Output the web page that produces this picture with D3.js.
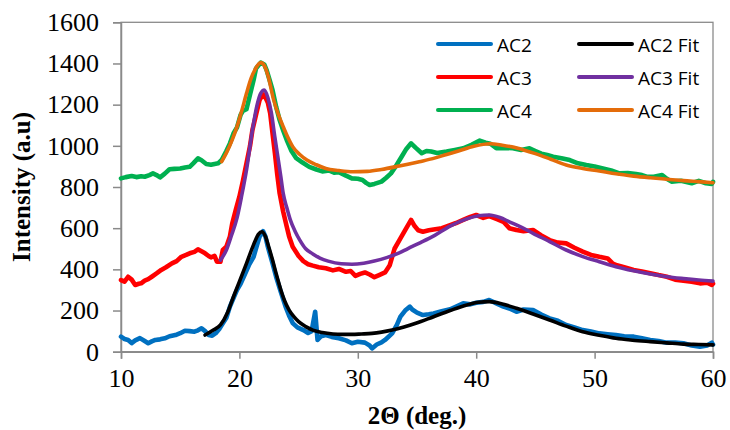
<!DOCTYPE html>
<html>
<head>
<meta charset="utf-8">
<script src="https://cdn.jsdelivr.net/npm/d3@7"></script>
<style>
  html, body { margin: 0; padding: 0; background: #fff; }
  svg { display: block; }
</style>
</head>
<body>
<svg id="chart" width="730" height="430"></svg>
<script>
// XRD patterns [2θ (deg), intensity (a.u)]
const ac2 = [[10.0,73],[10.3,62],[10.6,57],[10.9,42],[11.2,55],[11.6,66],[12.0,52],[12.3,41],[12.6,50],[12.9,57],[13.3,60],[13.7,65],[14.1,75],[14.6,81],[15.0,90],[15.4,102],[15.8,100],[16.2,97],[16.5,104],[16.8,114],[17.1,100],[17.4,81],[17.7,78],[18.0,90],[18.3,110],[18.6,138],[18.9,165],[19.2,219],[19.5,260],[19.8,300],[20.1,330],[20.5,381],[20.8,420],[21.2,461],[21.5,520],[21.7,558],[22.0,585],[22.2,560],[22.4,510],[22.8,429],[23.1,364],[23.5,290],[23.9,219],[24.2,175],[24.5,139],[24.9,118],[25.4,105],[25.8,91],[26.1,100],[26.4,194],[26.6,57],[26.9,75],[27.3,81],[27.8,72],[28.4,65],[29.0,55],[29.5,41],[30.0,48],[30.6,44],[31.0,30],[31.2,16],[31.6,35],[32.0,45],[32.3,57],[32.9,89],[33.3,130],[33.6,170],[34.0,200],[34.4,219],[34.6,205],[35.0,190],[35.5,178],[36.0,182],[36.4,186],[37.0,195],[37.8,206],[38.4,222],[38.9,235],[39.5,230],[40.0,238],[40.6,242],[41.1,251],[41.7,235],[42.3,219],[42.8,210],[43.4,194],[44.0,205],[44.8,202],[45.5,180],[46.2,162],[46.9,150],[47.6,130],[48.3,118],[49.0,105],[49.7,98],[50.4,89],[51.1,85],[51.8,81],[52.5,75],[53.3,73],[54.0,65],[54.7,57],[55.4,52],[56.1,44],[56.8,45],[57.5,41],[58.2,30],[58.9,24],[59.5,30],[59.9,44],[60.0,35]];

const ac2Fit = [[17.1,81],[17.8,105],[18.4,130],[19.0,190],[19.5,267],[20.0,340],[20.6,429],[21.2,520],[21.6,570],[21.9,583],[22.2,560],[22.5,505],[22.8,445],[23.1,380],[23.5,300],[23.8,250],[24.2,202],[24.6,170],[25.0,146],[25.6,122],[26.2,105],[27.0,93],[27.9,86],[28.7,84],[29.5,84],[30.3,86],[31.2,89],[32.0,95],[32.9,105],[33.9,120],[34.9,138],[36.4,170],[37.8,200],[39.2,227],[40.2,240],[41.1,243],[42.2,232],[43.4,211],[44.8,183],[46.2,154],[47.6,124],[49.0,97],[50.4,80],[51.8,65],[53.2,56],[54.7,49],[56.1,43],[57.5,37],[58.8,35],[60.0,33]];

const ac3 = [[10.0,348],[10.3,340],[10.6,364],[10.9,350],[11.2,324],[11.5,330],[11.7,332],[12.0,345],[12.3,352],[12.6,364],[13.0,380],[13.4,397],[13.8,410],[14.3,429],[14.7,440],[15.1,461],[15.5,470],[15.8,478],[16.2,485],[16.5,497],[16.8,488],[17.1,478],[17.4,465],[17.6,458],[17.9,465],[18.1,437],[18.4,437],[18.6,494],[18.9,510],[19.2,560],[19.4,624],[19.7,690],[20.0,753],[20.3,830],[20.6,915],[20.9,1000],[21.1,1077],[21.4,1150],[21.7,1222],[22.0,1250],[22.1,1247],[22.4,1210],[22.6,1158],[22.8,1060],[23.0,964],[23.2,860],[23.4,769],[23.7,680],[24.0,607],[24.2,560],[24.5,510],[25.0,465],[25.4,440],[25.8,425],[26.2,418],[26.7,410],[27.3,405],[27.9,395],[28.4,402],[29.0,388],[29.4,392],[29.8,368],[30.2,378],[30.6,385],[31.0,375],[31.4,362],[31.8,372],[32.3,385],[32.7,420],[33.1,500],[33.6,550],[34.0,591],[34.5,640],[34.8,610],[35.1,590],[35.5,583],[36.0,590],[36.4,594],[37.1,600],[37.8,615],[38.3,625],[38.9,640],[39.5,655],[40.0,664],[40.6,650],[41.1,659],[41.7,645],[42.3,631],[42.8,600],[43.4,591],[44.0,585],[44.8,591],[45.5,565],[46.2,542],[46.9,530],[47.6,526],[48.3,505],[49.0,486],[49.7,470],[50.4,461],[51.1,453],[51.5,430],[51.8,421],[52.5,410],[53.3,397],[54.0,390],[54.7,381],[55.4,372],[56.1,364],[56.8,350],[57.5,345],[58.2,340],[58.9,332],[59.5,335],[59.9,324],[60.0,330]];

const ac3Fit = [[18.4,445],[18.9,494],[19.3,560],[19.8,650],[20.2,760],[20.6,883],[21.1,1077],[21.5,1200],[21.8,1255],[22.1,1271],[22.4,1235],[22.7,1160],[23.0,1040],[23.2,964],[23.5,850],[23.7,769],[24.0,700],[24.3,640],[24.7,585],[25.1,542],[25.6,500],[26.2,475],[26.8,455],[27.5,440],[28.6,427],[29.5,425],[30.5,430],[31.4,440],[32.5,458],[33.5,480],[34.2,500],[35.3,530],[36.5,565],[37.8,610],[39.2,645],[40.2,660],[41.1,664],[42.0,652],[42.8,631],[43.8,605],[44.8,575],[46.2,535],[47.6,494],[49.0,462],[50.4,437],[51.8,413],[53.3,393],[54.7,377],[56.1,364],[57.5,355],[58.8,348],[60.0,343]];

const ac4 = [[10.0,842],[10.4,848],[10.9,853],[11.3,848],[11.7,852],[12.0,850],[12.4,858],[12.7,866],[13.0,858],[13.3,847],[13.7,865],[14.1,886],[14.5,888],[15.0,890],[15.4,895],[15.8,898],[16.1,915],[16.5,939],[16.8,930],[17.2,912],[17.6,908],[17.9,912],[18.2,915],[18.5,931],[18.9,975],[19.2,1012],[19.5,1060],[19.8,1090],[20.1,1150],[20.3,1170],[20.6,1178],[20.9,1250],[21.2,1320],[21.4,1376],[21.8,1404],[22.1,1395],[22.3,1368],[22.6,1310],[22.8,1270],[23.1,1190],[23.4,1125],[23.7,1075],[24.0,1028],[24.4,975],[24.8,940],[25.3,920],[25.9,898],[26.5,885],[27.0,876],[27.6,880],[28.0,870],[28.4,872],[29.0,855],[29.5,842],[30.0,840],[30.4,834],[30.7,820],[31.0,810],[31.4,815],[32.0,826],[32.4,845],[32.8,866],[33.2,900],[33.7,947],[34.1,985],[34.5,1012],[34.9,990],[35.4,964],[35.8,975],[36.2,972],[36.7,965],[37.5,972],[38.2,980],[38.9,988],[39.6,1005],[40.3,1025],[40.8,1015],[41.2,1010],[41.7,988],[42.4,990],[43.1,988],[43.8,980],[44.5,988],[45.0,975],[45.5,962],[46.0,955],[46.5,947],[47.2,940],[47.9,931],[48.6,915],[49.3,907],[50.0,900],[50.7,890],[51.4,880],[52.1,866],[52.8,868],[53.5,863],[54.0,858],[54.4,850],[55.0,850],[55.7,858],[56.1,840],[56.5,826],[57.3,830],[58.2,818],[58.8,830],[59.4,818],[59.9,815],[60.0,825]];

const ac4Fit = [[18.5,923],[18.9,965],[19.4,1030],[19.8,1093],[20.2,1170],[20.6,1255],[21.0,1330],[21.3,1368],[21.8,1404],[22.1,1390],[22.4,1344],[22.9,1222],[23.3,1150],[23.7,1093],[24.1,1040],[24.5,996],[25.1,958],[25.7,931],[26.5,908],[27.3,890],[28.4,880],[29.6,874],[30.8,876],[32.0,885],[33.5,902],[35.2,923],[36.4,939],[37.5,958],[38.5,975],[39.8,998],[41.2,1010],[42.2,1003],[43.0,995],[44.0,980],[45.0,962],[46.3,935],[47.6,907],[49.0,890],[50.4,878],[51.8,864],[53.3,853],[54.7,845],[56.1,838],[57.5,831],[58.8,826],[60.0,821]];

const seriesNames = ["AC2", "AC2 Fit", "AC3", "AC3 Fit", "AC4", "AC4 Fit"];
const seriesData = [ac2, ac2Fit, ac3, ac3Fit, ac4, ac4Fit];
const seriesColors = ["#0070C0", "#000000", "#FF0000", "#7030A0", "#00B050", "#E46C0A"];
const isFit = [false, true, false, true, false, true];

const xTicks = [10, 20, 30, 40, 50, 60];
const yTicks = [0, 200, 400, 600, 800, 1000, 1200, 1400, 1600];

const svg = d3.select("#chart");
const plotLeft = 121, plotRight = 713, plotTop = 22.3, plotBottom = 351.7;

const x = d3.scaleLinear().domain([10, 60]).range([plotLeft, plotRight]);
const y = d3.scaleLinear().domain([0, 1600]).range([plotBottom, plotTop]);

const axisColor = "#8a8a8a";
const serif = "'Liberation Serif', 'Times New Roman', serif";

// plot area frame
svg.append("rect")
  .attr("x", plotLeft).attr("y", plotTop)
  .attr("width", plotRight - plotLeft).attr("height", plotBottom - plotTop)
  .attr("fill", "none").attr("stroke", axisColor).attr("stroke-width", 1.3);

// axes
const gx = svg.append("g")
  .attr("transform", `translate(0,${plotBottom})`)
  .call(d3.axisBottom(x).tickValues(xTicks).tickSize(7).tickPadding(10).tickFormat(d3.format("d")));
const gy = svg.append("g")
  .attr("transform", `translate(${plotLeft},0)`)
  .call(d3.axisLeft(y).tickValues(yTicks).tickSize(8).tickPadding(14).tickFormat(d3.format("d")));

[gx, gy].forEach(g => {
  g.select(".domain").attr("stroke", axisColor).attr("stroke-width", 1.5);
  g.selectAll(".tick line").attr("stroke", axisColor).attr("stroke-width", 1.5);
  g.selectAll(".tick text")
    .attr("fill", "#000")
    .style("font-family", serif)
    .style("font-size", "26px");
});

// curves
const line = d3.line().x(d => x(d[0])).y(d => y(d[1]));
const fitLine = d3.line().x(d => x(d[0])).y(d => y(d[1])).curve(d3.curveMonotoneX);

seriesData.forEach((data, i) => {
  svg.append("path")
    .datum(data)
    .attr("fill", "none")
    .attr("stroke", seriesColors[i])
    .attr("stroke-width", isFit[i] ? 3.6 : 4.6)
    .attr("stroke-linejoin", "round")
    .attr("stroke-linecap", "round")
    .attr("d", isFit[i] ? fitLine : line);
});

// legend, two columns
const legendCols = [438, 579];
const legendRows = [44, 77, 110];
const legend = svg.append("g");
seriesNames.forEach((name, i) => {
  const col = i % 2, row = Math.floor(i / 2);
  const lx = legendCols[col], ly = legendRows[row];
  legend.append("line")
    .attr("x1", lx).attr("x2", lx + 53)
    .attr("y1", ly).attr("y2", ly)
    .attr("stroke", seriesColors[i])
    .attr("stroke-width", 4)
    .attr("stroke-linecap", "round");
  legend.append("text")
    .attr("x", lx + 59).attr("y", ly + 7.5)
    .style("font-family", "'Open Sans', 'Noto Sans', sans-serif")
    .style("font-size", "19px")
    .attr("fill", "#000")
    .text(name);
});

// axis titles
svg.append("text")
  .attr("x", (plotLeft + plotRight) / 2).attr("y", 424)
  .attr("text-anchor", "middle")
  .style("font-family", serif).style("font-weight", "bold").style("font-size", "25px")
  .text("2Θ (deg.)");

svg.append("text")
  .attr("transform", `translate(30,${(plotTop + plotBottom) / 2}) rotate(-90)`)
  .attr("text-anchor", "middle")
  .style("font-family", serif).style("font-weight", "bold").style("font-size", "25px")
  .text("Intensity (a.u)");
</script>
</body>
</html>
